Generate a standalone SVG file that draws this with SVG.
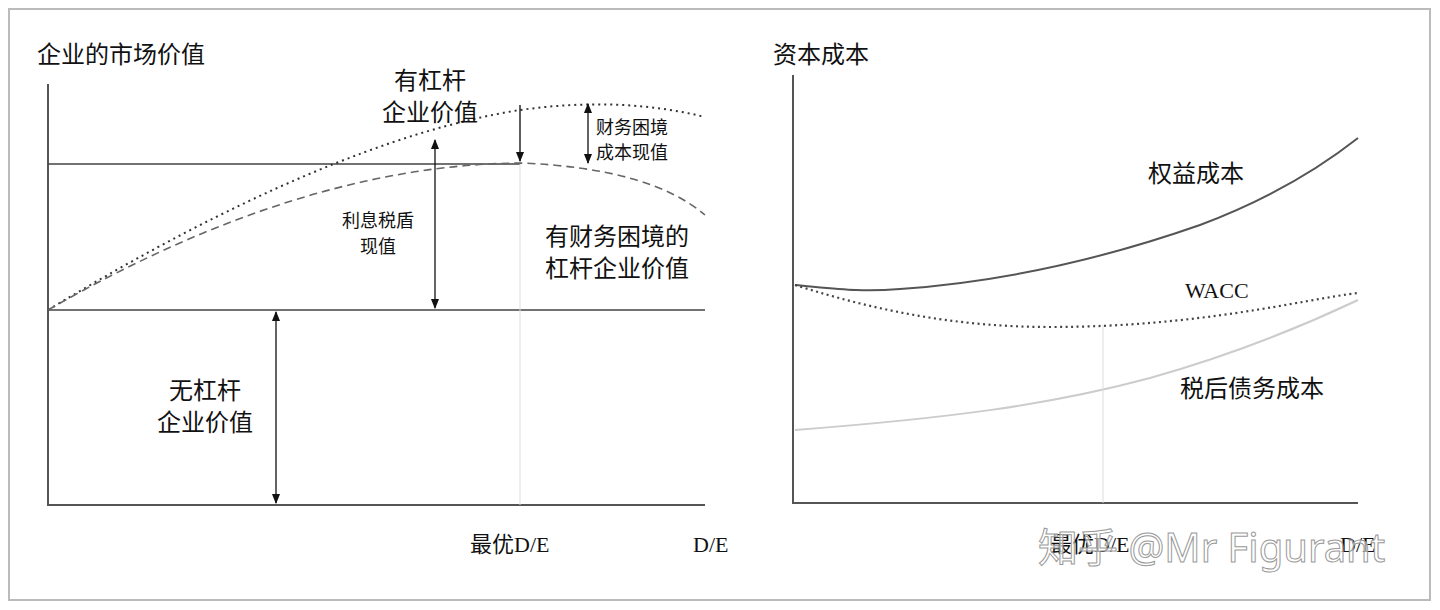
<svg xmlns="http://www.w3.org/2000/svg" width="1440" height="610" viewBox="0 0 1440 610">
<style>
.t{font-family:"Noto Sans CJK SC","Noto Sans",sans-serif;fill:#111}
.s{font-family:"Liberation Serif","Noto Sans CJK SC",serif;fill:#111;font-size:22px}
.ax{stroke:#555;stroke-width:2;fill:none}
.ln{stroke:#444;stroke-width:1.5;fill:none}
.ar{stroke:#111;stroke-width:1.3;fill:none}
</style>
<defs>
<marker id="ah" viewBox="0 0 10 10" refX="9" refY="5" markerWidth="8" markerHeight="8" orient="auto-start-reverse"><path d="M0,1 L10,5 L0,9 Z" fill="#111"/></marker>
</defs>
<rect x="0" y="0" width="1440" height="610" fill="#fff"/>
<rect x="9" y="9" width="1421" height="591" fill="#fff" stroke="#bbb" stroke-width="2"/>
<g id="left-chart">
<path class="ax" d="M48,84 V505 H705"/>
<path class="ln" d="M48,164 H520 M48,310 H705"/>
<path d="M520,105 V505" stroke="#ddd" stroke-width="1"/>
</g>
<g id="connectors">
<path d="M48,310 Q330,140 520,110 Q620,96 705,117" stroke="#333" stroke-width="2" stroke-dasharray="2 4" fill="none"/>
<path d="M48,310 Q300,165 520,163 Q650,168 705,215" stroke="#666" stroke-width="1.6" stroke-dasharray="8 5" fill="none"/>
<path class="ar" d="M276,312 V503" marker-start="url(#ah)" marker-end="url(#ah)"/>
<path class="ar" d="M435,140 V308" marker-start="url(#ah)" marker-end="url(#ah)"/>
<path class="ar" d="M520,105 V161" marker-end="url(#ah)"/>
<path class="ar" d="M588,104 V163" marker-start="url(#ah)" marker-end="url(#ah)"/>
<path d="M795,285 C840,289 860,292 900,289 C1000,282 1100,260 1200,225 C1280,195 1330,160 1358,138" stroke="#555" stroke-width="2" fill="none"/>
<path d="M795,285 C880,312 960,327 1050,327 C1200,327 1300,300 1358,293" stroke="#444" stroke-width="2.2" stroke-dasharray="2 3.5" fill="none"/>
<path d="M795,430 C950,418 1050,405 1150,378 C1250,350 1320,318 1358,300" stroke="#ccc" stroke-width="2" fill="none"/>
</g>
<g id="right-chart">
<path class="ax" d="M793,75 V503 H1358"/>
<path d="M1103,325 V503" stroke="#ddd" stroke-width="1"/>
</g>
<g id="labels">
<text class="t" x="37" y="63" font-size="24">企业的市场价值</text>
<text class="t" x="773" y="63" font-size="24">资本成本</text>
<text class="t" x="430" y="89" font-size="24" text-anchor="middle">有杠杆</text>
<text class="t" x="430" y="121" font-size="24" text-anchor="middle">企业价值</text>
<text class="t" x="596" y="134" font-size="18">财务困境</text>
<text class="t" x="596" y="159" font-size="18">成本现值</text>
<text class="t" x="378" y="227" font-size="18" text-anchor="middle">利息税盾</text>
<text class="t" x="378" y="253" font-size="18" text-anchor="middle">现值</text>
<text class="t" x="545" y="245" font-size="24">有财务困境的</text>
<text class="t" x="545" y="277" font-size="24">杠杆企业价值</text>
<text class="t" x="205" y="399" font-size="24" text-anchor="middle">无杠杆</text>
<text class="t" x="205" y="431" font-size="24" text-anchor="middle">企业价值</text>
<text class="s" x="470" y="552">最优D/E</text>
<text class="s" x="693" y="552">D/E</text>
<text class="t" x="1148" y="182" font-size="24">权益成本</text>
<text class="s" x="1185" y="298">WACC</text>
<text class="t" x="1180" y="397" font-size="24">税后债务成本</text>
<text class="s" x="1050" y="552">最优D/E</text>
<text class="s" x="1340" y="552">D/E</text>
<text x="1038" y="562" font-family="'Noto Sans','Noto Sans CJK SC',sans-serif" font-size="40" fill="#fff" fill-opacity="0.6" stroke="#999" stroke-width="1">知乎 @Mr Figurant</text>
</g>
</svg>
